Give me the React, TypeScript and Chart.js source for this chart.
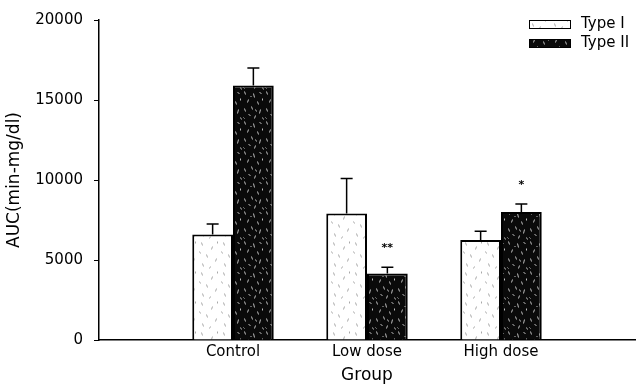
import React, { useEffect, useRef } from 'react';
import { Chart, registerables } from 'chart.js';

Chart.register(...registerables);

const categories = ['', 'Control', 'Low dose', 'High dose', ''];
const seriesLabels = ['Type I', 'Type II'];
const typeIValues = [null, 6600, 7900, 6250, null];
const typeIErrors = [null, 650, 2200, 550, null];
const typeIIValues = [null, 15900, 4150, 8000, null];
const typeIIErrors = [null, 1100, 400, 500, null];
const typeIMarks = ['', '', '', '', ''];
const typeIIMarks = ['', '', '**', '*', ''];
const yTicks = [0, 5000, 10000, 15000, 20000];

const FONT = '"DejaVu Sans", "Liberation Sans", Arial, sans-serif';

function makePattern(bg: string, fleck: string, strokes: number[][]) {
  const tile = document.createElement('canvas');
  tile.width = 22;
  tile.height = 30;
  const t = tile.getContext('2d')!;
  t.fillStyle = bg;
  t.fillRect(0, 0, tile.width, tile.height);
  t.strokeStyle = fleck;
  t.lineWidth = 1;
  strokes.forEach(([x1, y1, x2, y2]) => {
    t.beginPath();
    t.moveTo(x1 + 0.5, y1 + 0.5);
    t.lineTo(x2 + 0.5, y2 + 0.5);
    t.stroke();
  });
  const c = document.createElement('canvas').getContext('2d')!;
  return c.createPattern(tile, 'repeat') as CanvasPattern;
}

const lightStrokes = [
  [3, 2, 4, 5], [14, 6, 13, 9], [8, 14, 9, 17], [18, 18, 17, 21], [4, 23, 5, 26], [12, 26, 11, 28],
  [19, 1, 19, 3], [1, 11, 2, 13],
];
const darkStrokes = [
  [2, 1, 3, 4], [11, 3, 12, 7], [17, 2, 19, 3], [6, 9, 5, 12], [15, 11, 16, 14], [9, 16, 10, 19],
  [2, 18, 3, 21], [18, 19, 17, 23], [6, 24, 8, 25], [13, 25, 12, 28], [20, 27, 21, 29],
  [20, 8, 20, 10], [8, 6, 9, 6], [13, 19, 14, 21], [1, 27, 2, 28],
];

const errorBarPlugin = {
  id: 'errorBars',
  afterDatasetsDraw(chart: any) {
    const ctx = chart.ctx;
    const yScale = chart.scales.y;
    chart.data.datasets.forEach((ds: any, di: number) => {
      const meta = chart.getDatasetMeta(di);
      meta.data.forEach((bar: any, i: number) => {
        const v = ds.data[i];
        const e = ds.errors ? ds.errors[i] : null;
        if (v == null || e == null) return;
        const top = yScale.getPixelForValue(v + e);
        ctx.save();
        ctx.strokeStyle = '#000';
        ctx.lineWidth = 1.5;
        ctx.beginPath();
        ctx.moveTo(bar.x, bar.y);
        ctx.lineTo(bar.x, top);
        ctx.moveTo(bar.x - 6, top);
        ctx.lineTo(bar.x + 6, top);
        ctx.stroke();
        const mark = ds.marks ? ds.marks[i] : '';
        if (mark) {
          ctx.fillStyle = '#000';
          ctx.font = 'bold 11px ' + FONT;
          ctx.textAlign = 'center';
          ctx.textBaseline = 'alphabetic';
          ctx.fillText(mark, bar.x, top - 16);
        }
        ctx.restore();
      });
    });
  },
};

const legendPlugin = {
  id: 'boxLegend',
  afterDraw(chart: any) {
    const ctx = chart.ctx;
    const x0 = chart.chartArea.right - 106;
    const y0 = 20;
    chart.data.datasets.forEach((ds: any, di: number) => {
      const y = y0 + di * 19;
      ctx.save();
      ctx.fillStyle = ds.backgroundColor;
      ctx.fillRect(x0, y, 41, 8);
      ctx.strokeStyle = '#000';
      ctx.lineWidth = 1;
      ctx.strokeRect(x0 + 0.5, y + 0.5, 41, 8);
      ctx.fillStyle = '#000';
      ctx.font = '15px ' + FONT;
      ctx.textAlign = 'left';
      ctx.textBaseline = 'middle';
      ctx.fillText(ds.label, x0 + 52, y + 4);
      ctx.restore();
    });
  },
};

export default function App() {
  const ref = useRef<HTMLCanvasElement | null>(null);

  useEffect(() => {
    if (!ref.current) return;
    const lightPattern = makePattern('#ffffff', 'rgba(110,110,110,0.6)', lightStrokes);
    const darkPattern = makePattern('#0a0a0a', 'rgba(235,235,235,0.8)', darkStrokes);
    const chart = new Chart(ref.current, {
      type: 'bar',
      data: {
        labels: categories,
        datasets: [
          {
            label: seriesLabels[0],
            data: typeIValues,
            errors: typeIErrors,
            marks: typeIMarks,
            backgroundColor: lightPattern,
            borderColor: '#000',
            borderWidth: 2,
            barPercentage: 1,
            categoryPercentage: 0.608,
          } as any,
          {
            label: seriesLabels[1],
            data: typeIIValues,
            errors: typeIIErrors,
            marks: typeIIMarks,
            backgroundColor: darkPattern,
            borderColor: '#000',
            borderWidth: 2,
            barPercentage: 1,
            categoryPercentage: 0.608,
          } as any,
        ],
      },
      options: {
        responsive: false,
        animation: false,
        layout: { padding: { top: 17, right: 0, bottom: 0, left: 0 } },
        plugins: {
          legend: { display: false },
          tooltip: { enabled: false },
        },
        scales: {
          x: {
            type: 'category',
            offset: false,
            grid: { display: false, drawTicks: false },
            border: { display: true, color: '#000', width: 1.5 },
            ticks: {
              color: '#000',
              font: { family: FONT, size: 15 },
              padding: 3,
              autoSkip: false,
              maxRotation: 0,
            },
            title: {
              display: true,
              text: 'Group',
              color: '#000',
              font: { family: FONT, size: 17 },
              padding: { top: 0, bottom: 0 },
            },
            afterFit: (scale: any) => {
              scale.height = 46;
            },
          },
          y: {
            min: 0,
            max: 20000,
            grid: { drawOnChartArea: false, drawTicks: true, tickLength: 5, color: '#000' },
            border: { display: true, color: '#000', width: 1.5 },
            ticks: {
              color: '#000',
              font: { family: FONT, size: 15 },
              padding: 11,
              callback: (v: any) => String(v),
            },
            afterBuildTicks: (scale: any) => {
              scale.ticks = yTicks.map((v) => ({ value: v }));
            },
            title: {
              display: true,
              text: 'AUC(min-mg/dl)',
              color: '#000',
              font: { family: FONT, size: 17 },
              padding: { top: 4, bottom: 0 },
            },
            afterFit: (scale: any) => {
              scale.width = 99;
            },
          },
        },
      },
      plugins: [errorBarPlugin, legendPlugin],
    });
    return () => chart.destroy();
  }, []);

  return (
    <div style={{ position: 'absolute', left: 0, top: 0, width: 638, height: 386, background: '#fff' }}>
      <canvas ref={ref} width={638} height={386} style={{ display: 'block' }} />
    </div>
  );
}
